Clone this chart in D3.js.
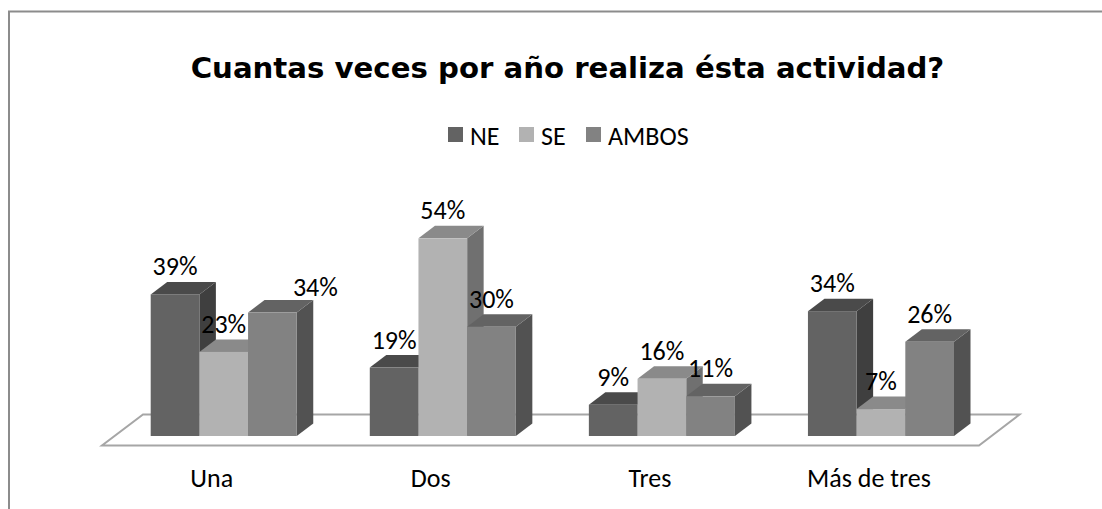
<html>
<head>
<title>Cuantas veces por año</title>
<script src="https://d3js.org/d3.v7.min.js"></script>
<style>
  body { margin: 0; background: #fff; }
  svg { display: block; }
  text { fill: #000; font-family: Carlito, Calibri, Lato, "Open Sans", sans-serif; }
  .title { font-family: "DejaVu Sans", Verdana, sans-serif; font-weight: bold; font-size: 29.2px; }
  .legend text { font-size: 26px; }
  .lab { font-size: 26px; }
</style>
</head>
<body>
<svg id="graph" width="1102" height="509"></svg>
<script>
const categories = ["Una", "Dos", "Tres", "Más de tres"];
const seriesNames = ["NE", "SE", "AMBOS"];
const ne = [38.9, 18.8, 8.6, 34.3];
const se = [23.1, 54.3, 15.7, 7.4];
const ambos = [33.9, 30.0, 10.9, 25.9];

const front = ["#636363", "#b2b2b2", "#828282"];
const top_ = ["#4a4a4a", "#8a8a8a", "#636363"];
const side = ["#3f3f3f", "#707070", "#525252"];

const canvas = d3.select("svg#graph");
const baseY = 436;
const depthX = 16.5, depthY = 12.5;

const x0 = d3.scaleBand().domain(categories).range([150.7, 954]).paddingInner(1 / 3).paddingOuter(0);
const x1 = d3.scaleBand().domain(seriesNames).range([0, x0.bandwidth()]);
const y = d3.scaleLinear().domain([0, 60]).range([baseY, baseY - 218.4]);

// frame, only top and left show in the picture
canvas.append("path")
  .attr("d", "M9,509V11.5H1102")
  .attr("fill", "none").attr("stroke", "#8c8c8c").attr("stroke-width", 2);

canvas.append("text").attr("class", "title")
  .attr("x", 567.5).attr("y", 78).attr("text-anchor", "middle")
  .text("Cuantas veces por año realiza ésta actividad?");

// legend
const legendX = [448, 519, 586];
const legend = canvas.append("g").attr("class", "legend");
seriesNames.forEach((s, i) => {
  legend.append("rect").attr("x", legendX[i]).attr("y", 127).attr("width", 15).attr("height", 15).attr("fill", front[i]);
  legend.append("text").attr("x", legendX[i] + 22).attr("y", 144.5).text(s);
});

// floor
canvas.append("path")
  .attr("d", "M102,445.5H979L1019.5,414.5H143Z")
  .attr("fill", "#fff").attr("stroke", "#a6a6a6").attr("stroke-width", 2);

// bars, left to right so the later ones cover the sides of earlier ones
const bars = canvas.append("g");
const labelList = [];
categories.forEach((c, ci) => {
  [ne, se, ambos].forEach((values, si) => {
    const s = seriesNames[si];
    const xl = x0(c) + x1(s), xr = xl + x1.bandwidth();
    const yt = y(values[ci]);
    bars.append("path")
      .attr("d", `M${xr},${yt}L${xr + depthX},${yt - depthY}V${baseY - depthY}L${xr},${baseY}Z`)
      .attr("fill", side[si]);
    bars.append("path")
      .attr("d", `M${xl},${yt}L${xl + depthX},${yt - depthY}H${xr + depthX}L${xr},${yt}Z`)
      .attr("fill", top_[si]);
    bars.append("rect")
      .attr("x", xl).attr("y", yt).attr("width", x1.bandwidth()).attr("height", baseY - yt)
      .attr("fill", front[si]);
    labelList.push({ x: (xl + xr) / 2, y: yt - 19, v: values[ci], c: c, s: s });
  });
});

// data labels on top of all bars
canvas.append("g").selectAll("text").data(labelList).join("text")
  .attr("class", "lab")
  .attr("text-anchor", "middle")
  .attr("x", d => d.x + (d.c === "Una" && d.s === "AMBOS" ? 43 : 0))
  .attr("y", d => d.y + (d.c === "Una" && d.s === "AMBOS" ? 2 : 0))
  .text(d => d3.format(".0f")(d.v) + "%");

// category axis, sits a bit left of the bars because of the depth
const xAxis = d3.axisBottom(x0).tickSize(0).tickPadding(0);
const axisG = canvas.append("g").attr("class", "x")
  .attr("transform", "translate(-12,468.5)")
  .call(xAxis);
axisG.select(".domain").remove();
axisG.selectAll("text").attr("fill", "#000").style("font-size", "26px").style("font-family", "Carlito, Calibri, Lato, sans-serif");
</script>
</body>
</html>
